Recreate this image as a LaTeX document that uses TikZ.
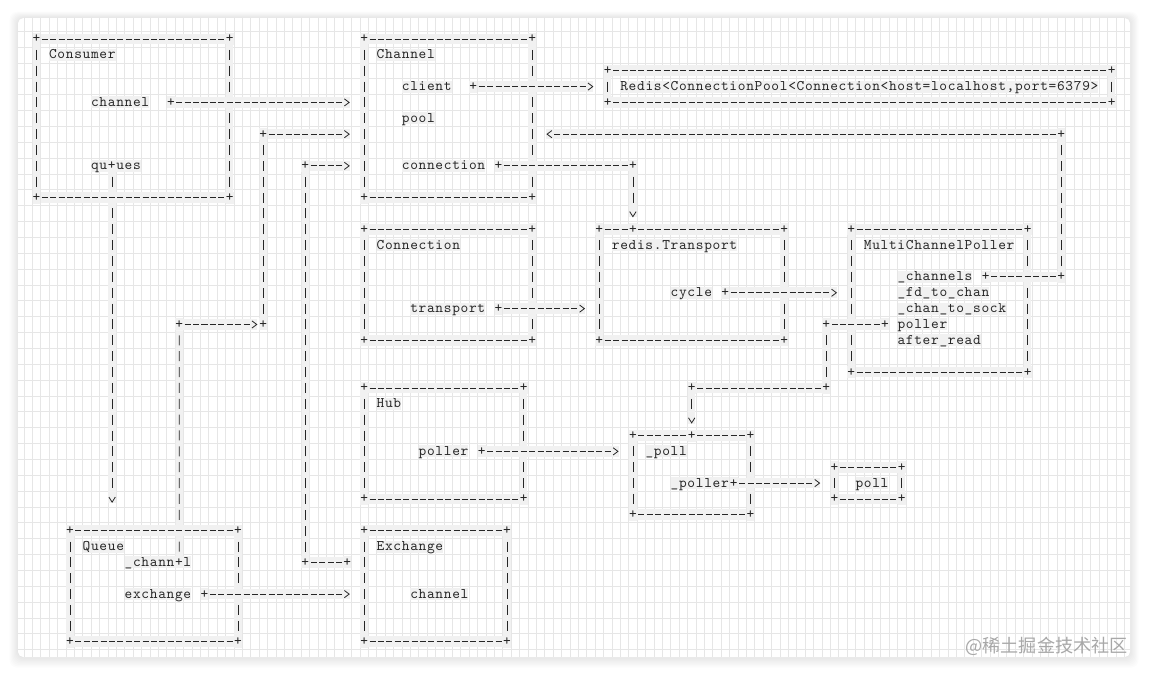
\documentclass[tikz,border=0pt]{standalone}
\usepackage{fontspec}
\newfontfamily\asciifont[LetterSpace=4.77]{lmmono10-regular.otf}
\newfontfamily\cjkfont{Noto Sans CJK SC}
\usetikzlibrary{arrows.meta,calc,fit}

\definecolor{ink}{HTML}{262626}
\definecolor{band}{HTML}{F1F1F1}
\definecolor{gridline}{HTML}{E6E6E6}
\definecolor{markgray}{HTML}{A8A8A8}

\pgfdeclarelayer{bg}
\pgfdeclarelayer{under}
\pgfsetlayers{bg,under,main}

% one unit = one character cell of the ascii sketch
\tikzset{
  lbl/.style={font=\asciifont\fontsize{11pt}{12pt}\selectfont, text=ink, fill=band,
    inner sep=0pt, outer sep=0pt, text height=7.5pt, text depth=1.5pt, anchor=west},
  plus/.style={lbl, anchor=center},
  boxarea/.style={inner sep=0pt, outer sep=0pt},
  hline/.style={draw=ink, line width=0.6pt, dash pattern=on 4.5pt off 1.8pt,
    shorten <=4.05pt, shorten >=4.05pt,
    preaction={draw=band, solid, line width=8pt, shorten <=3.15pt, shorten >=3.15pt}},
  vline/.style={draw=ink, line width=0.6pt, dash pattern=on 7.5pt off 4.395pt,
    shorten <=8.15pt, shorten >=8.15pt,
    preaction={draw=band, solid, line width=5.5pt, shorten <=4.5pt, shorten >=4.5pt}},
  htip/.style={postaction={draw=ink, line width=0.6pt, dash pattern=on 0pt off 2000pt,
    shorten <=4.05pt, shorten >=#1, arrows={-{Straight Barb[length=3.6pt,width=5.4pt]}}}},
  vtip/.style={postaction={draw=ink, line width=0.6pt, dash pattern=on 0pt off 2000pt,
    shorten <=8.15pt, shorten >=#1, arrows={-{Straight Barb[length=3.8pt,width=4.8pt]}}}},
  hrun/.style={draw=ink, line width=0.6pt, dash pattern=on 4.5pt off 1.8pt, shorten <=4.05pt,
    preaction={draw=band, solid, line width=8pt, shorten <=3.15pt, shorten >=#1}},
  hrun/.default=10.71pt,
  vrun/.style={draw=ink, line width=0.6pt, dash pattern=on 7.5pt off 4.395pt, shorten <=8.15pt,
    preaction={draw=band, solid, line width=5.5pt, shorten <=4.5pt, shorten >=#1}},
  vrun/.default=8.92pt,
  hconn/.style={hrun, shorten >=16.65pt, htip=10.71pt},
  vconn/.style={vrun, shorten >=20.04pt, vtip=8.92pt},
}

% name, left col, top row, right col, bottom row
\newcommand{\asciibox}[5]{%
  \node[boxarea, fit={(#2,#3) (#4,#5)}] (#1) {};
  \draw[hline] (#1.north west) -- (#1.north east);
  \draw[hline] (#1.south west) -- (#1.south east);
  \draw[vline] (#1.north west) -- (#1.south west);
  \draw[vline] (#1.north east) -- (#1.south east);
  \node[plus] (#1-nw) at (#1.north west) {+};
  \node[plus] (#1-ne) at (#1.north east) {+};
  \node[plus] (#1-sw) at (#1.south west) {+};
  \node[plus] (#1-se) at (#1.south east) {+};
}

\begin{document}
\begin{tikzpicture}[x=6.3pt, y=-11.895pt]
    \useasboundingbox (-4.345,-2.459) rectangle (132.44,40.227);

    % card, shadow and grid
    \coordinate (card-nw) at (-2.2,-1.32);
    \coordinate (card-se) at (130.18,38.97);
    \begin{pgfonlayer}{bg}
        \foreach \i in {1,...,8}
            \fill[black, opacity=0.012, rounded corners=6pt]
                ([shift={(-\i*0.8pt,\i*0.6pt)}]card-nw) rectangle ([shift={(\i*0.8pt,-\i*1pt)}]card-se);
        \fill[white, rounded corners=4pt] (card-nw) rectangle (card-se);
        \begin{scope}
            \clip[rounded corners=4pt] (card-nw) rectangle (card-se);
            \foreach \cx in {-2,...,129}
                \draw[gridline, line width=0.4pt] (\cx+0.5,-1.32) -- (\cx+0.5,38.97);
            \foreach \ry in {-1,...,38}
                \draw[gridline, line width=0.4pt] (-2.2,\ry+0.5) -- (130.18,\ry+0.5);
        \end{scope}
    \end{pgfonlayer}

    % boxes
    \asciibox{consumer}{0}{0}{23}{10}
    \asciibox{channel}{39}{0}{59}{10}
    \asciibox{redis}{68}{2}{128}{4}
    \asciibox{connection}{39}{12}{59}{19}
    \asciibox{transport}{67}{12}{89}{19}
    \asciibox{mcp}{97}{12}{118}{21}
    \asciibox{hub}{39}{22}{58}{29}
    \asciibox{polldef}{71}{25}{85}{30}
    \asciibox{pollcall}{95}{27}{103}{29}
    \asciibox{queue}{4}{31}{24}{38}
    \asciibox{exchange}{39}{31}{56}{38}

    % labels
    \node[lbl] (cons-title) at (1.5,1) {Consumer};
    \node[lbl] (cons-channel) at (6.5,4) {channel};
    \node[lbl] (cons-queues) at (6.5,8) {qu+ues};
    \node[lbl] (chan-title) at (40.5,1) {Channel};
    \node[lbl] (chan-client) at (43.5,3) {client};
    \node[lbl] (chan-pool) at (43.5,5) {pool};
    \node[lbl] (chan-conn) at (43.5,8) {connection};
    \node[lbl] (redis-text) at (69.5,3) {Redis<ConnectionPool<Connection<host=localhost,port=6379>};
    \node[lbl] (conn-title) at (40.5,13) {Connection};
    \node[lbl] (conn-transport) at (44.5,17) {transport};
    \node[lbl] (tr-title) at (68.5,13) {redis.Transport};
    \node[lbl] (tr-cycle) at (75.5,16) {cycle};
    \node[lbl] (mcp-title) at (98.5,13) {MultiChannelPoller};
    \node[lbl] (mcp-channels) at (102.5,15) {\_channels};
    \node[lbl] (mcp-fd) at (102.5,16) {\_fd\_to\_chan};
    \node[lbl] (mcp-sock) at (102.5,17) {\_chan\_to\_sock};
    \node[lbl] (mcp-poller) at (102.5,18) {poller};
    \node[lbl] (mcp-after) at (102.5,19) {after\_read};
    \node[lbl] (hub-title) at (40.5,23) {Hub};
    \node[lbl] (hub-poller) at (45.5,26) {poller};
    \node[lbl] (pd-title) at (72.5,26) {\_poll};
    \node[lbl] (pd-poller) at (75.5,28) {\_poller};
    \node[lbl] (pc-title) at (97.5,28) {poll};
    \node[lbl] (q-title) at (5.5,32) {Queue};
    \node[lbl] (q-channel) at (10.5,33) {\_chann+l};
    \node[lbl] (q-exchange) at (10.5,35) {exchange};
    \node[lbl] (ex-title) at (40.5,32) {Exchange};
    \node[lbl] (ex-channel) at (44.5,35) {channel};

    % junctions
    \coordinate (cons-qj) at ($(cons-queues.west)+(2.5,0)$);
    \coordinate (q-cj) at ($(q-channel.west)+(6.5,0)$);
    \node[plus] (j-a) at (16,4) {+};
    \node[plus] (j-b) at (52,3) {+};
    \node[plus] (j-c) at (55,8) {+};
    \node[plus] (j-d) at (71,8) {+};
    \node[plus] (j-e) at (transport.north -| j-d) {+};
    \node[plus] (j-f) at (113,15) {+};
    \node[plus] (j-g) at (122,15) {+};
    \node[plus] (j-h) at (122,6) {+};
    \node[plus] (j-i) at (55,17) {+};
    \node[plus] (j-j) at (82,16) {+};
    \node[plus] (j-k) at (101,18) {+};
    \node[plus] (j-l) at (94,18) {+};
    \node[plus] (j-m) at (94,22) {+};
    \node[plus] (j-n) at (78,22) {+};
    \node[plus] (j-o) at (polldef.north -| j-n) {+};
    \node[plus] (j-p) at (53,26) {+};
    \node[plus] (j-q) at (83,28) {+};
    \node[plus] (j-r) at (17,18) {+};
    \node[plus] (j-s) at (27,18) {+};
    \node[plus] (j-t) at (27,6) {+};
    \node[plus] (j-u) at (20,35) {+};
    \node[plus] (j-v) at (37,33) {+};
    \node[plus] (j-w) at (32,33) {+};
    \node[plus] (j-x) at (32,8) {+};

    % horizontal runs
    \draw[hconn] (j-a.center) -- (channel.west |- j-a);
    \draw[hconn] (j-b.center) -- (redis.west |- j-b);
    \draw[hline] (j-c.center) -- (j-d.center);
    \draw[hline] (j-f.center) -- (j-g.center);
    \draw[hconn] (j-h.center) -- (channel.east |- j-h);
    \draw[hconn] (j-i.center) -- (transport.west |- j-i);
    \draw[hconn] (j-j.center) -- (mcp.west |- j-j);
    \draw[hline] (j-k.center) -- (j-l.center);
    \draw[hline] (j-m.center) -- (j-n.center);
    \draw[hconn] (j-p.center) -- (polldef.west |- j-p);
    \draw[hconn] (j-q.center) -- (pollcall.west |- j-q);
    \draw[hrun=4.41pt, shorten >=10.35pt, htip=4.41pt] (j-r.center) -- (j-s.center);
    \draw[hconn] (j-t.center) -- (channel.west |- j-t);
    \draw[hconn] (j-u.center) -- (exchange.west |- j-u);
    \draw[hline] (j-v.center) -- (j-w.center);
    \draw[hconn] (j-x.center) -- (channel.west |- j-x);

    % vertical runs
    \begin{pgfonlayer}{under}
        \draw[vconn] (j-d.center) -- (j-e.center);
        \draw[vline] (j-g.center) -- (j-h.center);
        \draw[vline] (j-l.center) -- (j-m.center);
        \draw[vconn] (j-n.center) -- (j-o.center);
        \draw[vrun=20.82pt, shorten >=31.94pt, vtip=20.82pt] (cons-qj) -- (queue.north -| cons-qj);
        \draw[vline] (q-cj) -- (j-r.center);
        \draw[vline] (j-s.center) -- (j-t.center);
        \draw[vline] (j-w.center) -- (j-x.center);
    \end{pgfonlayer}

    \node[anchor=east, inner sep=0pt, text=markgray, font=\cjkfont\fontsize{13.6pt}{14pt}\selectfont]
        (watermark) at (129.94,38.32) {@稀土掘金技术社区};
\end{tikzpicture}
\end{document}
